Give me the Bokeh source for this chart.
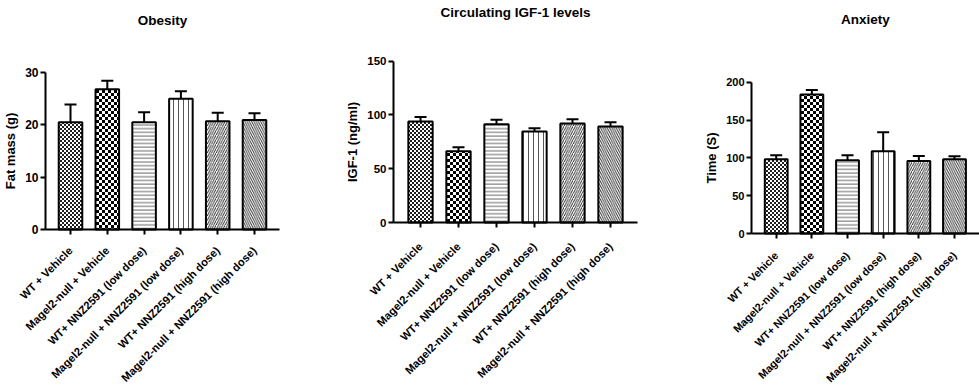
import base64, struct, zlib
from math import pi
from bokeh.plotting import figure
from bokeh.layouts import row
from bokeh.models import (ColumnDataSource, Range1d, FixedTicker, Whisker, TeeHead,
                          ImageURLTexture, Label)
from bokeh.embed import file_html
from bokeh.resources import INLINE

# ---------------- data ----------------
categories = [
    "WT + Vehicle",
    "Magel2-null + Vehicle",
    "WT+ NNZ2591 (low dose)",
    "Magel2-null + NNZ2591 (low dose)",
    "WT+ NNZ2591 (high dose)",
    "Magel2-null + NNZ2591 (high dose)",
]
fat_mass = [20.5, 26.8, 20.5, 25.0, 20.7, 20.9]
fat_mass_sem = [3.4, 1.6, 1.9, 1.4, 1.6, 1.3]
igf1 = [94.0, 66.3, 91.4, 84.6, 92.0, 89.3]
igf1_sem = [4.0, 3.7, 4.1, 3.1, 4.0, 4.0]
anxiety_time = [98.2, 183.6, 96.9, 108.7, 96.0, 98.2]
anxiety_time_sem = [5.2, 6.2, 6.5, 25.1, 6.6, 3.9]

titles = ["Obesity", "Circulating IGF-1 levels", "Anxiety"]
y_labels = ["Fat mass (g)", "IGF-1 (ng/ml)", "Time (S)"]
ticks_obesity = [0, 10, 20, 30]
ticks_igf1 = [0, 50, 100, 150]
ticks_anxiety = [0, 50, 100, 150, 200]

FONT = "Liberation Sans"
TOP = 0        # picture y of the figures' top edge
LEFT = 0       # picture x of the first figure
H = 389        # figure height


def checker_url(cell, dark=0):
    n = 2 * cell
    raw = b""
    for yy in range(n):
        line = bytearray([0])
        for xx in range(n):
            v = dark if ((xx // cell) + (yy // cell)) % 2 == 0 else 255
            line += bytes([v, v, v])
        raw += bytes(line)

    def chunk(t, d):
        return struct.pack(">I", len(d)) + t + d + struct.pack(">I", zlib.crc32(t + d) & 0xFFFFFFFF)

    png = (b"\x89PNG\r\n\x1a\n"
           + chunk(b"IHDR", struct.pack(">IIBBBBB", n, n, 8, 2, 0, 0, 0))
           + chunk(b"IDAT", zlib.compress(raw))
           + chunk(b"IEND", b""))
    return "data:image/png;base64," + base64.b64encode(png).decode()


patterns = ["chk_fine", "chk_coarse", "-", "|", "/", "\\"]
hatch_colors = ["black", "black", "#555555", "#444444", "#111111", "#111111"]
hatch_scales = [4, 6, 3.7, 5, 4.5, 4.5]


def panel(values, errors, ticks, title, ylabel, W, fig_left,
          axis_x, axis_y, tick_top, x_end, c0, step, title_y, tick_fs,
          cat_fs, cat_standoff):
    n = len(categories)
    x = list(range(n))
    y_end = ticks[-1]
    pxu = (axis_y - tick_top) / y_end

    def dx(px):
        return (px - c0) / step

    def dy(py):
        return (axis_y - py) / pxu

    src = ColumnDataSource(dict(
        x=x, top=values, upper=[v + e for v, e in zip(values, errors)],
        pattern=patterns, hcolor=hatch_colors, hscale=hatch_scales))

    p = figure(width=W, height=H, output_backend="svg", toolbar_location=None,
               x_range=Range1d(dx(fig_left), dx(fig_left + W)),
               y_range=Range1d(dy(TOP + H), dy(TOP)),
               min_border=0)
    p.outline_line_color = None
    p.grid.visible = False
    p.background_fill_color = "white"
    p.border_fill_color = "white"

    p.vbar(x="x", top="top", width=0.64, bottom=0, source=src,
           fill_color="white", line_color="black", line_width=2,
           hatch_pattern="pattern", hatch_color="hcolor", hatch_scale="hscale",
           hatch_weight=0.9,
           hatch_extra={"chk_fine": ImageURLTexture(url=checker_url(2, 30)),
                        "chk_coarse": ImageURLTexture(url=checker_url(3, 0))})
    p.add_layout(Whisker(base="x", lower="top", upper="upper", source=src,
                         line_color="black", line_width=2,
                         upper_head=TeeHead(size=12, line_width=2, line_color="black"),
                         lower_head=None))

    p.add_layout(Label(x=(n - 1) / 2, y=dy(title_y), text=title,
                       text_align="center", text_baseline="middle",
                       text_font=FONT, text_font_style="bold",
                       text_font_size="13.5px", text_color="black"))

    for ax in (p.xaxis[0], p.yaxis[0]):
        ax.axis_line_width = 2
        ax.axis_line_color = "black"
        ax.major_tick_line_width = 2
        ax.major_tick_line_color = "black"
        ax.major_tick_out = 5
        ax.major_tick_in = 0
        ax.minor_tick_line_color = None
        ax.major_label_text_font = FONT
        ax.major_label_text_font_style = "bold"
        ax.major_label_text_color = "black"

    yax = p.yaxis[0]
    yax.fixed_location = dx(axis_x)
    yax.bounds = (0, y_end)
    yax.ticker = FixedTicker(ticks=ticks)
    yax.major_label_text_font_size = tick_fs
    yax.major_label_standoff = 2
    yax.axis_label = ylabel
    yax.axis_label_text_font = FONT
    yax.axis_label_text_font_style = "bold"
    yax.axis_label_text_font_size = "13px"
    yax.axis_label_text_color = "black"
    yax.axis_label_standoff = 4

    xax = p.xaxis[0]
    xax.fixed_location = 0
    xax.bounds = (dx(axis_x), dx(x_end))
    xax.ticker = FixedTicker(ticks=x)
    xax.major_label_overrides = {i: c for i, c in zip(x, categories)}
    xax.major_label_orientation = pi / 4
    xax.major_label_text_font_size = cat_fs
    xax.major_label_standoff = cat_standoff
    return p


W1, W2, W3 = 330, 330, 319
p1 = panel(fat_mass, fat_mass_sem, ticks_obesity, titles[0], y_labels[0],
           W1, LEFT, 45, 229, 72, 279, 70, 36.8, 20, "12px", "11.2px", 14)
p2 = panel(igf1, igf1_sem, ticks_igf1, titles[1], y_labels[1],
           W2, LEFT + W1, 393, 222, 60.7, 637, 420, 38.0, 12, "11.5px", "11.2px", 17)
p3 = panel(anxiety_time, anxiety_time_sem, ticks_anxiety, titles[2], y_labels[2],
           W3, LEFT + W1 + W2, 751, 233, 81.7, 979, 775.7, 35.66, 19, "11px", "10.8px", 15)

layout = row(p1, p2, p3)
open("out.html", "w").write(file_html(layout, INLINE))
